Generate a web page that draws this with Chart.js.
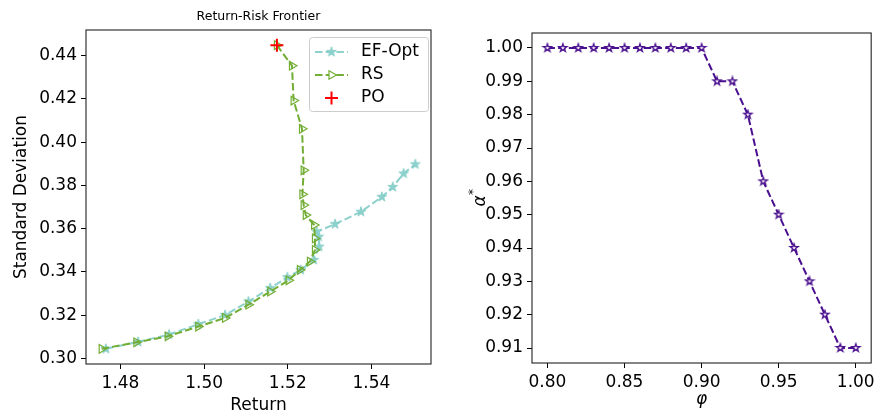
<!DOCTYPE html>
<html>
<head>
<meta charset="utf-8">
<script src="https://cdn.jsdelivr.net/npm/chart.js@4.4.1/dist/chart.umd.min.js"></script>
<style>
  html, body { margin: 0; padding: 0; background: #fff; }
  #wrap { position: relative; width: 879px; height: 412px; }
  .box { position: absolute; top: 0; height: 412px; }
</style>
</head>
<body>
<div id="wrap">
  <div class="box" style="left:0;width:440px"><canvas id="leftChart"></canvas></div>
  <div class="box" style="left:440px;width:439px"><canvas id="rightChart"></canvas></div>
</div>
<script>
// ---- data ----
const efReturn = [1.4765, 1.4842, 1.4916, 1.4986, 1.5050, 1.5106, 1.5158, 1.5199, 1.5231, 1.5262,
                  1.5275, 1.5274, 1.5269, 1.5313, 1.5375, 1.5425, 1.5451, 1.5477, 1.5505];
const efStd    = [0.3044, 0.3076, 0.3110, 0.3158, 0.3200, 0.3263, 0.3325, 0.3375, 0.3409, 0.3455,
                  0.3517, 0.3563, 0.3586, 0.3621, 0.3678, 0.3747, 0.3793, 0.3855, 0.3898];
const rsReturn = [1.5174, 1.5210, 1.5214, 1.5234, 1.5238, 1.5235, 1.5238, 1.5243, 1.5263, 1.5265,
                  1.5265, 1.5253, 1.5229, 1.5202, 1.5158, 1.5106, 1.5050, 1.4986, 1.4913, 1.4838, 1.4755];
const rsStd    = [0.4449, 0.4354, 0.4193, 0.4062, 0.3870, 0.3759, 0.3709, 0.3663, 0.3617, 0.3555,
                  0.3501, 0.3448, 0.3409, 0.3361, 0.3309, 0.3248, 0.3187, 0.3147, 0.3102, 0.3074, 0.3044];
const poReturn = [1.5174];
const poStd    = [0.4449];
const returnTicks = [1.48, 1.50, 1.52, 1.54];
const stdTicks = [0.30, 0.32, 0.34, 0.36, 0.38, 0.40, 0.42, 0.44];

const phi       = [0.80, 0.81, 0.82, 0.83, 0.84, 0.85, 0.86, 0.87, 0.88, 0.89, 0.90,
                   0.91, 0.92, 0.93, 0.94, 0.95, 0.96, 0.97, 0.98, 0.99, 1.00];
const alphaStar = [1.00, 1.00, 1.00, 1.00, 1.00, 1.00, 1.00, 1.00, 1.00, 1.00, 1.00,
                   0.99, 0.99, 0.98, 0.96, 0.95, 0.94, 0.93, 0.92, 0.91, 0.91];
const phiTicks   = [0.80, 0.85, 0.90, 0.95, 1.00];
const alphaTicks = [0.91, 0.92, 0.93, 0.94, 0.95, 0.96, 0.97, 0.98, 0.99, 1.00];

const FONT = 'DejaVu Sans';
const CYAN = '#8dd1cc', GREEN = '#72ad34', PURPLE = '#4a0f8e', RED = '#ff0000';
const DASH = [7.5, 3.2];

// matplotlib-like 5% margins
function padRange(arr, frac){
  const lo = Math.min(...arr), hi = Math.max(...arr), m = (hi - lo) * frac;
  return [lo - m, hi + m];
}
function pts(xs, ys){ return xs.map((x, i) => ({ x, y: ys[i] })); }

function starImg(r, fill, stroke, lw){
  const s = Math.ceil(2 * r + lw + 2);
  const c = document.createElement('canvas');
  c.width = c.height = s;
  const g = c.getContext('2d');
  g.translate(s / 2, s / 2);
  g.beginPath();
  for (let i = 0; i < 10; i++){
    const a = -Math.PI / 2 + i * Math.PI / 5;
    const rr = i % 2 ? r * 0.382 : r;
    g.lineTo(Math.cos(a) * rr, Math.sin(a) * rr);
  }
  g.closePath();
  g.fillStyle = fill; g.fill();
  g.lineWidth = lw; g.strokeStyle = stroke; g.stroke();
  return c;
}
const efStar = starImg(5.2, CYAN, '#7fcbc6', 0.8);
const purpleStar = starImg(4.2, '#ffffff', PURPLE, 1.3);

function axis(range, ticks, decimals, size){
  return {
    type: 'linear', min: range[0], max: range[1],
    afterBuildTicks: s => { s.ticks = ticks.map(v => ({ value: v })); },
    afterFit: s => { if (s.isHorizontal()) s.height = size; else s.width = size; },
    ticks: { font: { family: FONT, size: 17 }, color: '#000', padding: 4,
             callback: v => Number(v).toFixed(decimals), autoSkip: false, maxRotation: 0 },
    grid: { drawOnChartArea: false, drawTicks: true, tickLength: 5, tickColor: '#000', tickWidth: 1 },
    border: { display: false }
  };
}

// frame, titles and legend drawn on top
const decor = {
  id: 'decor',
  afterDraw(chart, args, o){
    const { ctx, chartArea: a } = chart;
    ctx.save();
    ctx.strokeStyle = '#222'; ctx.lineWidth = 1.1;
    ctx.strokeRect(a.left, a.top, a.right - a.left, a.bottom - a.top);
    ctx.fillStyle = '#000';
    (o.draw || (() => {}))(ctx, a);
    ctx.restore();
  }
};

function dashLine(ctx, x0, x1, y, color){
  ctx.save();
  ctx.strokeStyle = color; ctx.lineWidth = 2; ctx.setLineDash(DASH);
  ctx.beginPath(); ctx.moveTo(x0, y); ctx.lineTo(x1, y); ctx.stroke();
  ctx.restore();
}

const xr = padRange(efReturn.concat(rsReturn, poReturn), 0.05);
const yr = padRange(efStd.concat(rsStd, poStd), 0.05);

new Chart(document.getElementById('leftChart'), {
  type: 'scatter',
  data: { datasets: [
    { label: 'EF-Opt', data: pts(efReturn, efStd), showLine: true, order: 2,
      borderColor: CYAN, borderWidth: 2, borderDash: DASH, pointStyle: efStar },
    { label: 'RS', data: pts(rsReturn, rsStd), showLine: true, order: 1,
      borderColor: GREEN, borderWidth: 2, borderDash: DASH, pointStyle: 'triangle', rotation: 90,
      pointRadius: 5, pointBorderWidth: 1.2, pointBorderColor: GREEN, pointBackgroundColor: 'rgba(0,0,0,0)' },
    { label: 'PO', data: pts(poReturn, poStd), order: 0,
      pointStyle: 'cross', pointRadius: 6.5, pointBorderWidth: 2, pointBorderColor: RED }
  ]},
  options: {
    responsive: true, maintainAspectRatio: false, animation: false, devicePixelRatio: 1,
    layout: { padding: { top: 30, right: 9, left: 0, bottom: 0 } },
    scales: {
      x: Object.assign(axis(xr, returnTicks, 2, 48), {
        title: { display: true, text: 'Return', font: { family: FONT, size: 17, lineHeight: 0.8 }, color: '#000', padding: { top: 0, bottom: 0 } } }),
      y: Object.assign(axis(yr, stdTicks, 2, 86), {
        title: { display: true, text: 'Standard Deviation', font: { family: FONT, size: 17, lineHeight: 1 }, color: '#000', padding: { top: 13, bottom: 0 } } })
    },
    plugins: {
      legend: { display: false }, tooltip: { enabled: false },
      decor: { draw(ctx, a){
        ctx.font = '12.5px ' + FONT; ctx.textAlign = 'center'; ctx.textBaseline = 'middle';
        ctx.fillText('Return-Risk Frontier', (a.left + a.right) / 2, 17);
        // legend box
        const bx = 309.5, by = 37.5, bw = 119, bh = 74, r = 3;
        ctx.beginPath();
        ctx.roundRect(bx, by, bw, bh, r);
        ctx.fillStyle = 'rgba(255,255,255,0.8)'; ctx.fill();
        ctx.strokeStyle = '#cccccc'; ctx.lineWidth = 1; ctx.stroke();
        const rows = [52, 75, 98];
        dashLine(ctx, 315, 348, rows[0], CYAN);
        ctx.drawImage(efStar, 331.5 - efStar.width / 2, rows[0] - efStar.height / 2);
        dashLine(ctx, 315, 348, rows[1], GREEN);
        ctx.save();
        ctx.strokeStyle = GREEN; ctx.fillStyle = '#ffffff'; ctx.lineWidth = 1.2;
        Chart.helpers.drawPoint(ctx, { pointStyle: 'triangle', rotation: 90, radius: 5, borderWidth: 1.2 }, 331.5, rows[1]);
        ctx.restore();
        ctx.save();
        ctx.strokeStyle = RED; ctx.lineWidth = 2;
        ctx.beginPath(); ctx.moveTo(325, rows[2]); ctx.lineTo(338, rows[2]);
        ctx.moveTo(331.5, rows[2] - 6.5); ctx.lineTo(331.5, rows[2] + 6.5); ctx.stroke();
        ctx.restore();
        ctx.fillStyle = '#000'; ctx.font = '17px ' + FONT; ctx.textAlign = 'left';
        ctx.fillText('EF-Opt', 361, rows[0]);
        ctx.fillText('RS', 361, rows[1]);
        ctx.fillText('PO', 361, rows[2]);
      } }
    }
  },
  plugins: [decor]
});

const pr = padRange(phi, 0.05);
const ar = padRange(alphaStar, 0.05);

new Chart(document.getElementById('rightChart'), {
  type: 'scatter',
  data: { datasets: [
    { label: 'alpha', data: pts(phi, alphaStar), showLine: true,
      borderColor: PURPLE, borderWidth: 2, borderDash: DASH, pointStyle: purpleStar }
  ]},
  options: {
    responsive: true, maintainAspectRatio: false, animation: false, devicePixelRatio: 1,
    layout: { padding: { top: 33, right: 7, left: 0, bottom: 0 } },
    scales: {
      x: axis(pr, phiTicks, 2, 49),
      y: axis(ar, alphaTicks, 2, 92)
    },
    plugins: {
      legend: { display: false }, tooltip: { enabled: false },
      decor: { draw(ctx, a){
        // x label: phi
        ctx.font = 'italic 17px ' + FONT; ctx.textAlign = 'center'; ctx.textBaseline = 'middle';
        ctx.fillText('φ', (a.left + a.right) / 2, 400);
        // y label: alpha*
        ctx.save();
        ctx.translate(41, (a.top + a.bottom) / 2);
        ctx.rotate(-Math.PI / 2);
        ctx.font = 'italic 17px ' + FONT; ctx.textAlign = 'center';
        ctx.fillText('α', -3, 0);
        ctx.font = 'italic 12px ' + FONT; ctx.textAlign = 'left';
        ctx.fillText('*', 3, -7);
        ctx.restore();
      } }
    }
  },
  plugins: [decor]
});
</script>
</body>
</html>
